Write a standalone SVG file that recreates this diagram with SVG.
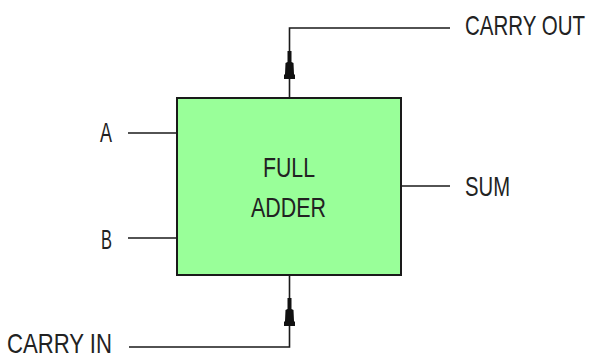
<svg xmlns="http://www.w3.org/2000/svg" width="593" height="358" viewBox="0 0 593 358">
<style>
.w{stroke:#1a1a1a;stroke-width:1.6;fill:none}
.t{font-family:"Liberation Sans",Arial,sans-serif;font-size:20px;fill:#222}
.a{fill:#111}
</style>
<defs>
<path id="arr" d="M-2,0 L2,0 L2,11 L4,12 L4.5,23 L5.5,24 L5.5,28 L-5.5,28 L-5.5,24 L-4.5,23 L-4,12 L-2,11 Z"/>
</defs>
<rect width="593" height="358" fill="#fff"/>
<g id="connectors">
<polyline class="w" points="289.5,98 289.5,28 450,28"/>
<use href="#arr" class="a" x="289.5" y="51"/>
<polyline class="w" points="289.5,275 289.5,347 129,347"/>
<use href="#arr" class="a" x="289.5" y="298"/>
<line class="w" x1="128" y1="133" x2="177" y2="133"/>
<line class="w" x1="128" y1="238" x2="177" y2="238"/>
<line class="w" x1="401" y1="186" x2="450" y2="186"/>
</g>
<g id="full-adder">
<rect x="177" y="98" width="224" height="177" fill="#99ff99" stroke="#1a1a1a" stroke-width="2"/>
<text class="t" transform="translate(263,177) scale(1,1.38)" textLength="52" lengthAdjust="spacingAndGlyphs">FULL</text>
<text class="t" transform="translate(251,217) scale(1,1.38)" textLength="75" lengthAdjust="spacingAndGlyphs">ADDER</text>
</g>
<g id="in-a"><text class="t" transform="translate(100,142) scale(1,1.38)" textLength="12" lengthAdjust="spacingAndGlyphs">A</text></g>
<g id="in-b"><text class="t" transform="translate(101,249) scale(1,1.38)" textLength="11" lengthAdjust="spacingAndGlyphs">B</text></g>
<g id="sum"><text class="t" transform="translate(465,196) scale(1,1.38)" textLength="45" lengthAdjust="spacingAndGlyphs">SUM</text></g>
<g id="carry-out"><text class="t" transform="translate(465,35) scale(1,1.38)" textLength="120" lengthAdjust="spacingAndGlyphs">CARRY OUT</text></g>
<g id="carry-in"><text class="t" transform="translate(7,353) scale(1,1.38)" textLength="105" lengthAdjust="spacingAndGlyphs">CARRY IN</text></g>
</svg>
